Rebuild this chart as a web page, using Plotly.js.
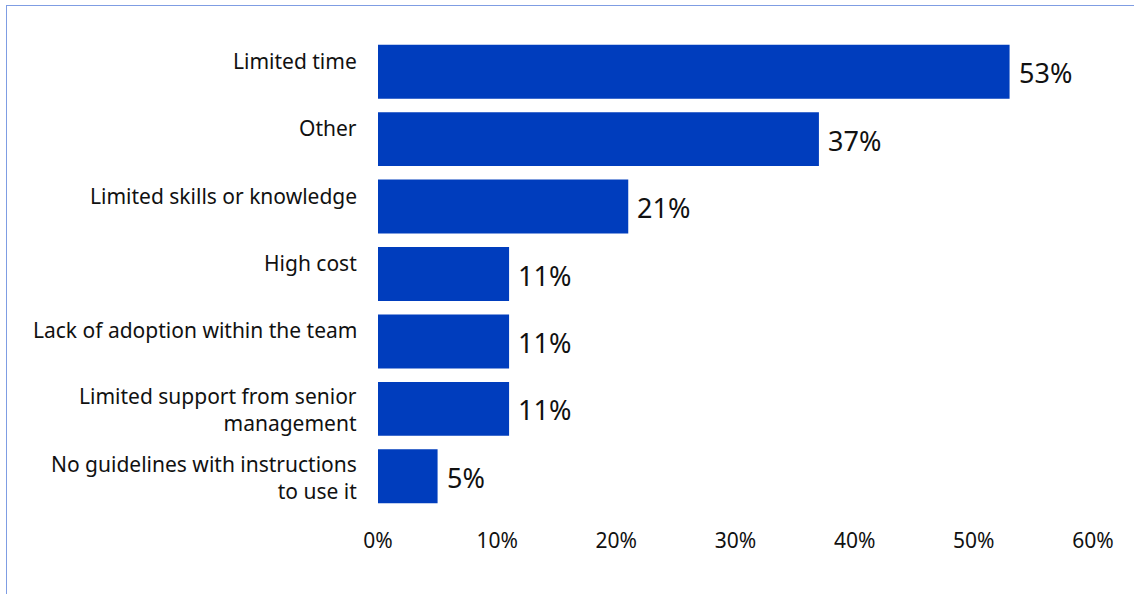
<!DOCTYPE html>
<html>
<head>
<meta charset="utf-8">
<script src="https://cdn.plot.ly/plotly-3.0.1.min.js"></script>
<style>
  html, body { margin: 0; padding: 0; background: #fff; }
  #wrap { position: relative; width: 1134px; height: 594px; }
  #chart { width: 1134px; height: 594px; }
  #frame { position: absolute; left: 6px; top: 5px; right: -2px; bottom: -2px;
           border-left: 1.5px solid #7f9de3; border-top: 1.5px solid #7f9de3;
           pointer-events: none; }
</style>
</head>
<body>
<div id="wrap">
  <div id="chart"></div>
  <div id="frame"></div>
</div>
<script>
const categories = [
  "Limited time",
  "Other",
  "Limited skills or knowledge",
  "High cost",
  "Lack of adoption within the team",
  "Limited support from senior<br>management",
  "No guidelines with instructions<br>to use it"
];
const values = [53, 37, 21, 11, 11, 11, 5];
const tickValues = [0, 10, 20, 30, 40, 50, 60];
const tickLabels = ["0%", "10%", "20%", "30%", "40%", "50%", "60%"];

const ids = categories.map((c, i) => "c" + i);
const font = "Noto Sans, Open Sans, sans-serif";

const trace = {
  type: "bar",
  orientation: "h",
  x: values,
  y: ids,
  marker: { color: "#003dbd" },
  hoverinfo: "skip"
};

const annotations = [];
values.forEach((v, i) => {
  annotations.push({
    x: v, y: ids[i], xref: "x", yref: "y",
    text: v + "%", showarrow: false,
    xanchor: "left", yanchor: "middle", xshift: 7, yshift: -1,
    font: { family: font, size: 27, color: "#111" }
  });
});
categories.forEach((c, i) => {
  const multi = c.indexOf("<br>") >= 0;
  annotations.push({
    x: 0, xref: "paper", y: ids[i], yref: "y",
    text: c, showarrow: false, align: "right",
    xanchor: "right", yanchor: "middle", xshift: -19, yshift: multi ? -1 : 11,
    font: { family: font, size: 21, color: "#111" }
  });
});

const layout = {
  width: 1134, height: 594,
  margin: { l: 378, r: 41, t: 38, b: 84 },
  paper_bgcolor: "#fff", plot_bgcolor: "#fff",
  bargap: 0.2,
  showlegend: false,
  font: { family: font, color: "#111" },
  xaxis: {
    range: [0, 60],
    tickvals: tickValues, ticktext: tickLabels,
    showgrid: false, zeroline: false, showline: false,
    ticks: "outside", ticklen: 12, tickcolor: "rgba(0,0,0,0)",
    tickfont: { family: font, size: 21, color: "#111" },
    fixedrange: true
  },
  yaxis: {
    autorange: "reversed",
    tickvals: ids, showticklabels: false,
    showgrid: false, zeroline: false, showline: false,
    fixedrange: true
  },
  annotations: annotations
};

Plotly.newPlot("chart", [trace], layout, { displayModeBar: false, staticPlot: true });
</script>
</body>
</html>
